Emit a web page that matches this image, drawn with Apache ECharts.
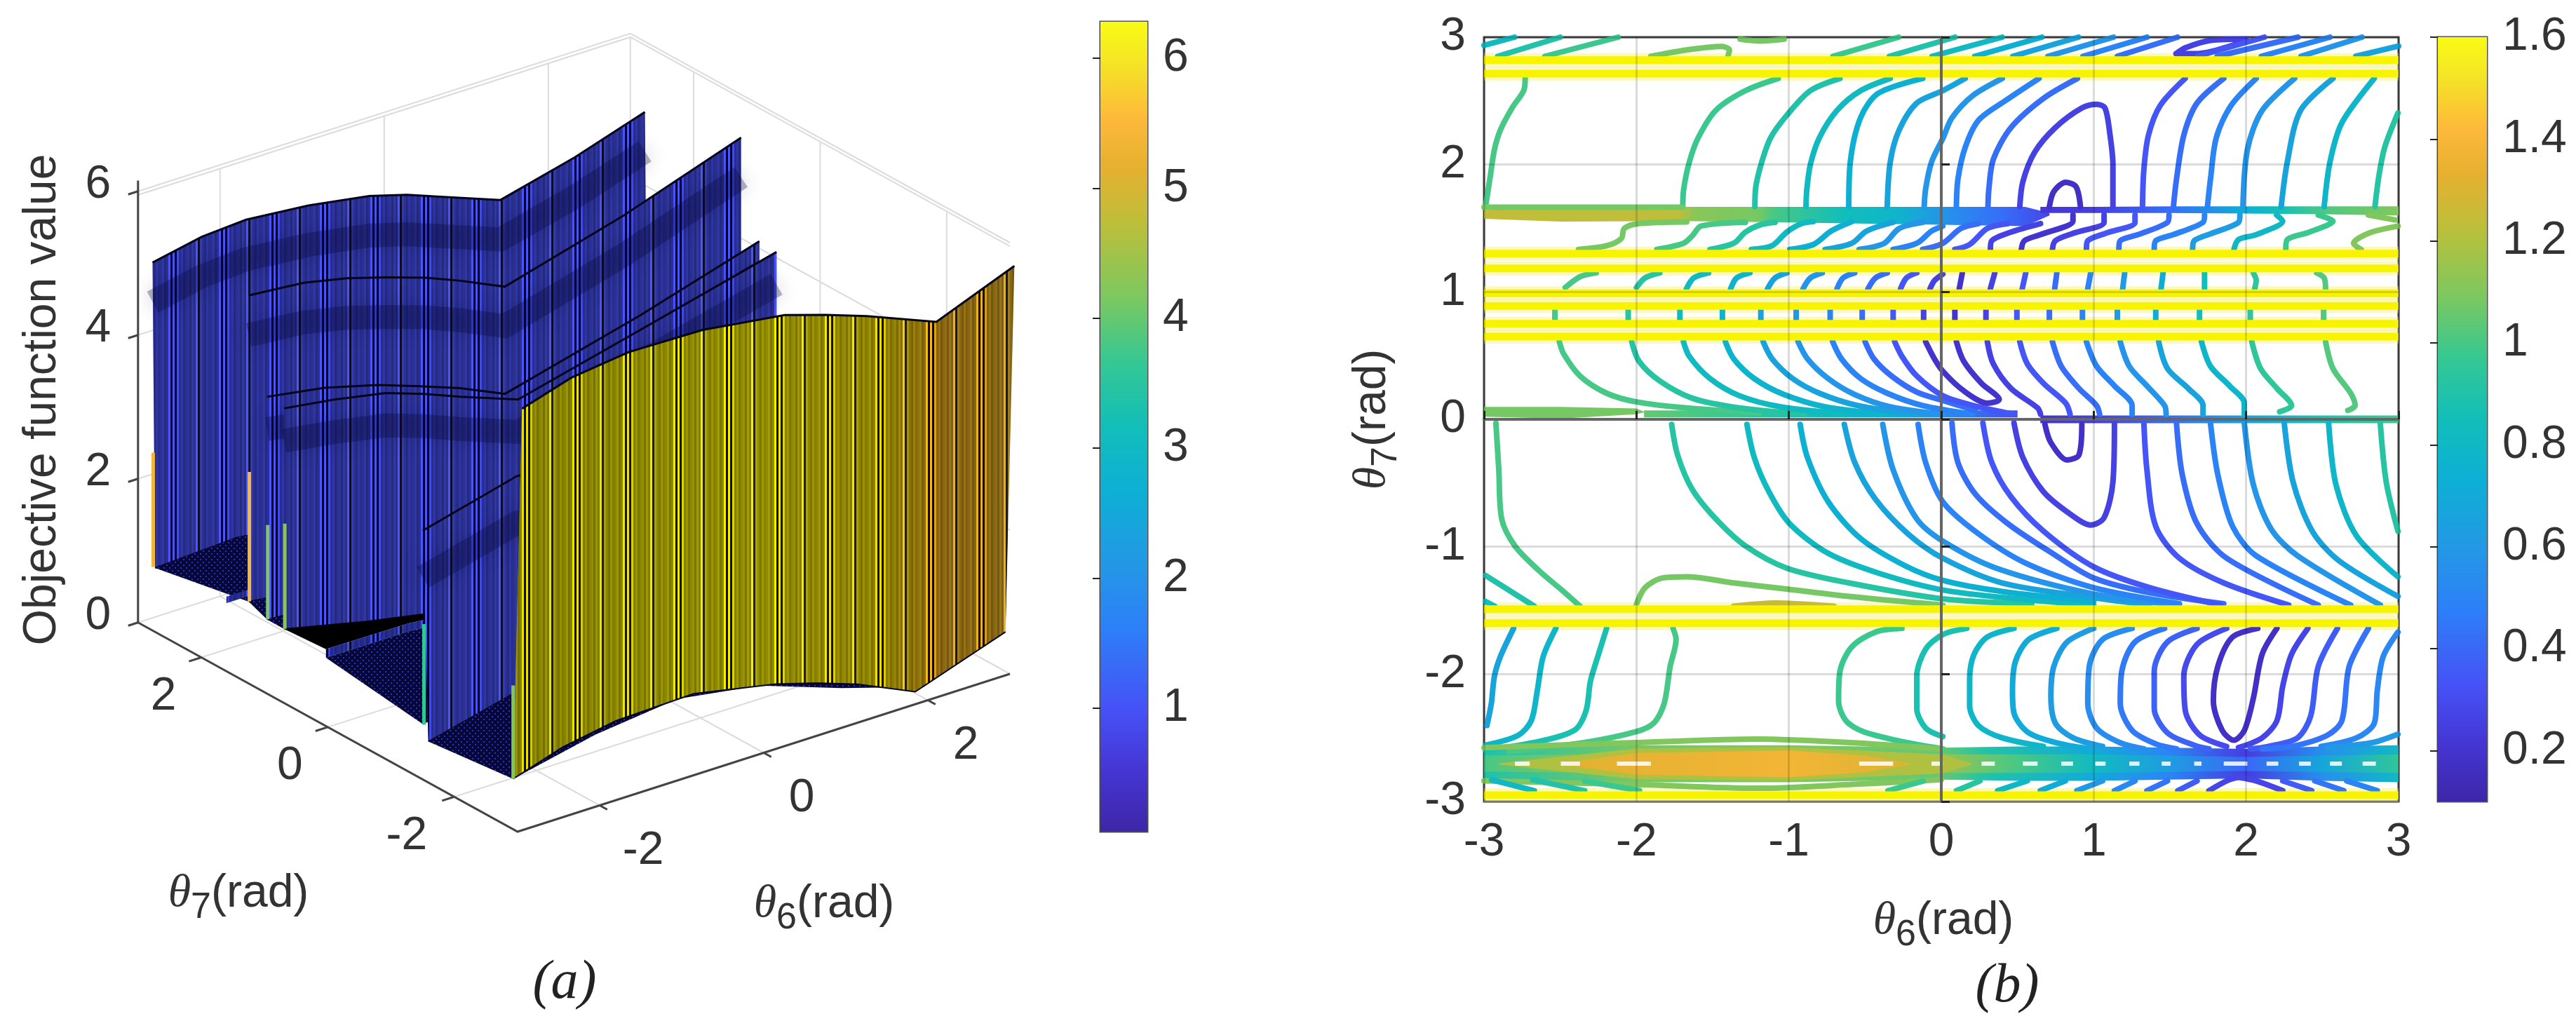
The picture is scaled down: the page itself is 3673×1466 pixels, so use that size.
<!DOCTYPE html>
<html>
<head>
<meta charset="utf-8">
<style>
  html, body { margin: 0; background: #fff; }
  #main { width: 3673px; height: 1466px; }
</style>
<script src="https://cdn.jsdelivr.net/npm/echarts@6/dist/echarts.min.js"></script>
</head>
<body>
<div id="main"></div>
<script>
const FONT = '"Liberation Sans", Arial, sans-serif'
const SERIF = '"Liberation Serif", serif'
const INK = '#333'

// parula
const colormap = [
  [0, '#3e26a8'], [0.08, '#4537d6'], [0.15, '#4651f5'], [0.25, '#2d7ff9'], [0.33, '#2398e5'],
  [0.42, '#0dafd5'], [0.5, '#12beb9'], [0.58, '#35c893'], [0.66, '#7cc860'], [0.75, '#bcbf3a'],
  [0.82, '#e6b030'], [0.88, '#fdb93a'], [0.95, '#f5e525'], [1, '#f9fb15']
]

// --- (a) surface ---
const tickTheta = [-2, 0, 2]
const tickZ = [0, 2, 4, 6]
const zRange = [0.05, 6.28]
const zBarTicks = [1, 2, 3, 4, 5, 6]

// blue walls, back to front
const wallTopTheta7 = [2.77, 1.25, 0.96, 0.69, -1.5]
const wallBaseTheta7 = [2.73, 1.25, 0.96, 0.69, -1.59]
const wallTopTheta6 = [
  [-3, -2.4, -1.86, -1.1, -0.36, 0.1, 0.54, 1.24, 2.14, 3],
  [-3, -2.33, -1.8, -1.33, -0.85, -0.42, 0.12, 1.57, 3],
  [-3, -2.3, -1.65, -1.15, -0.65, -0.1, 1.55, 3],
  [-3, -2.4, -1.76, -1.3, -0.86, -0.15, 1.4, 3],
  [-3, -1.85, 0, 1, 3]
]
const wallTop = [
  [5.12, 5.26, 5.3, 5.22, 5.08, 4.93, 4.74, 4.44, 4.7, 5.02],
  [5.4, 5.33, 5.2, 5.04, 4.86, 4.66, 4.38, 4.84, 5.4],
  [4.13, 4.0, 3.8, 3.6, 3.39, 3.11, 3.6, 4.1],
  [4.1, 4.0, 3.86, 3.68, 3.48, 3.18, 3.62, 4.08],
  [3.46, 3.8, 3.5, 3.1, 3.4]
]
const floorTheta6 = [-3, -2, -1, 0, 1, 2, 3]
const wallBase = [
  [0.89, 0.95, 0.8, 0.6, 0.4, 0.5, 0.8],
  [1.14, 1.0, 0.85, 0.6, 0.4, 0.5, 0.8],
  [1.03, 0.95, 0.75, 0.5, 0.35, 0.5, 0.8],
  [1.03, 0.77, 0.55, 0.4, 0.3, 0.4, 0.7],
  [0.57, 0.85, 0.9, 0.7, 0.5, 0.5, 0.8]
]
const wallBandDrop = [0.55, 0.55, 0.45, 0.45, 0.65]

// yellow front wall
const frontTopTheta7 = -3.07
const frontBaseTheta7 = -2.93
const frontTopTheta6 = [-3, -2.4, -1.7, -0.8, 0.2, 0.7, 1.2, 2.05, 3]
const frontTop = [5.92, 6.13, 6.23, 6.21, 6.05, 5.87, 5.67, 5.28, 5.71]
const frontBaseTheta6 = [-3, -2.4, -1.75, -0.8, 0.2, 0.7, 1.2, 1.9, 3]
const frontBase = [0.7, 0.92, 1.05, 1.08, 0.85, 0.68, 0.48, 0.12, 0.55]
const frontStopTheta6 = [-3, 0, 1.5, 2.2, 3]
const frontStopColor = ['#e8e000', '#f8f000', '#f5e000', '#f0b020', '#e8b020']

// floor patches between walls: back edge, front edge
const floorBackTheta7 = [2.73, 1.25, 0.96, 0.69, 0.03, -1.59]
const floorFrontTheta7 = [1.25, 0.96, 0.69, 0.03, -1.5, -2.93]
const floorBackZ = [
  [0.89, 0.95, 0.8, 0.6, 0.4, 0.5, 0.8],
  [1.14, 1.0, 0.85, 0.6, 0.4, 0.5, 0.8],
  [1.03, 0.95, 0.75, 0.5, 0.35, 0.5, 0.8],
  [1.03, 0.77, 0.55, 0.4, 0.3, 0.4, 0.7],
  [0.95, 0.95, 0.85, 0.7, 0.5, 0.4, 0.6],
  [0.57, 0.85, 0.9, 0.7, 0.5, 0.5, 0.8]
]
const floorFrontZ = [
  [1.14, 1.0, 0.85, 0.6, 0.4, 0.5, 0.8],
  [1.03, 0.95, 0.75, 0.5, 0.35, 0.5, 0.8],
  [1.03, 0.77, 0.55, 0.4, 0.3, 0.4, 0.7],
  [1.07, 1.06, 0.95, 0.8, 0.5, 0.4, 0.6],
  [0.77, 0.85, 0.9, 0.7, 0.5, 0.5, 0.8],
  [0.7, 0.95, 1.08, 0.9, 0.5, 0.15, 0.55]
]
const floorBlack = [false, false, false, true, false, false]

// low ridges on the floor
const ridgeTheta7 = [1.6, 0.03]
const ridgeTheta6 = [-3, -2, -1]
const ridgeTop = [[1.04, 1.04, 0.9], [1.07, 1.06, 0.95]]
const ridgeLow = [[0.95, 0.95, 0.8], [0.95, 0.95, 0.85]]

// coloured slivers on the cut edge at theta6 = -3
const sliverTheta7 = [2.76, 1.24, 0.95, 0.68, -1.52, -2.93]
const sliverLow = [0.89, 1.14, 1.03, 1.03, 0.77, 0.7]
const sliverHigh = [2.48, 2.95, 2.35, 2.5, 2.17, 2.0]
const sliverValue = [5.4, 5.5, 4.2, 4.3, 3.6, 4.2]

// --- (b) contours ---
const contourRange = [0.1, 1.6]
const contourBarTicks = [0.2, 0.4, 0.6, 0.8, 1, 1.2, 1.4, 1.6]
const yellowBands = [2.82, 2.714, 1.3, 1.185, 0.99, 0.89, 0.75, 0.65, -1.49, -1.6, -2.95]

// [level, theta6, theta7]
const topStrip = [
  [0.82, [-3, -2.8], [2.936, 3]],
  [0.9, [-2.91, -2.5], [2.85, 3]],
  [0.98, [-2.6, -2.12], [2.85, 3]],
  [1.08, [-1.905, -1.67, -1.44, -1.39, -1.4], [2.85, 2.9, 2.927, 2.9, 2.85]],
  [1.08, [-1.32, -1.19, -1.03], [2.985, 2.97, 2.985]],
  [0.98, [-0.71, -0.28], [2.85, 3]],
  [0.9, [-0.34, 0.09], [2.85, 3]],
  [0.82, [-0.06, 0.4], [2.85, 3]],
  [0.74, [0.22, 0.66], [2.85, 3]],
  [0.66, [0.47, 0.9], [2.85, 3]],
  [0.58, [0.7, 1.13], [2.85, 3]],
  [0.5, [0.93, 1.35], [2.85, 3]],
  [0.42, [1.155, 1.55], [2.85, 3]],
  [0.26, [1.54, 1.6, 1.77, 2.01, 1.99, 1.66, 1.54], [2.87, 2.916, 2.975, 2.985, 2.965, 2.87, 2.87]],
  [0.34, [1.68, 2.12], [2.85, 3]],
  [0.42, [1.81, 2.34], [2.85, 3]],
  [0.5, [2.1, 2.55], [2.85, 3]],
  [0.58, [2.36, 2.76], [2.85, 3]],
  [0.66, [2.72, 3], [2.85, 2.93]]
]
const upperField = [
  [1.0, [-2.73, -2.74, -2.816, -2.893, -2.932, -2.96, -2.99], [2.676, 2.58, 2.444, 2.27, 2.116, 1.9, 1.67]],
  [0.98, [-1.07, -1.285, -1.48, -1.595, -1.653, -1.69, -1.696], [2.676, 2.58, 2.425, 2.21, 2.02, 1.807, 1.67]],
  [0.9, [-0.665, -0.859, -1.014, -1.12, -1.178, -1.217, -1.223], [2.676, 2.58, 2.386, 2.21, 2.02, 1.826, 1.67]],
  [0.82, [-0.335, -0.529, -0.684, -0.8, -0.859, -0.882, -0.888], [2.676, 2.58, 2.425, 2.21, 2, 1.807, 1.67]],
  [0.74, [-0.122, -0.413, -0.53, -0.597, -0.607], [2.676, 2.56, 2.367, 2.02, 1.67]],
  [0.66, [0.157, 0.01, -0.161, -0.277, -0.335, -0.355], [2.676, 2.58, 2.483, 2.27, 2.02, 1.67]],
  [0.58, [0.4, 0.205, 0.07, 0.012, -0.064, -0.103, -0.112], [2.676, 2.54, 2.367, 2.21, 2.02, 1.807, 1.67]],
  [0.5, [0.641, 0.419, 0.244, 0.157, 0.109, 0.099], [2.676, 2.5, 2.347, 2.135, 1.884, 1.67]],
  [0.42, [0.893, 0.671, 0.457, 0.341, 0.312, 0.306], [2.676, 2.52, 2.29, 2.04, 1.807, 1.67]],
  [0.26, [0.515, 0.535, 0.612, 0.748, 0.922, 1.019, 1.074, 1.107, 1.126, 1.126], [1.67, 1.865, 2.096, 2.29, 2.444, 2.473, 2.444, 2.232, 2, 1.67]],
  [0.18, [0.709, 0.738, 0.816, 0.884, 0.913], [1.67, 1.788, 1.861, 1.826, 1.67]],
  [0.34, [1.6, 1.436, 1.359, 1.329, 1.32], [2.676, 2.463, 2.23, 1.96, 1.67]],
  [0.42, [1.853, 1.678, 1.591, 1.543, 1.523], [2.676, 2.483, 2.23, 1.884, 1.67]],
  [0.5, [2.066, 1.901, 1.804, 1.766, 1.746], [2.676, 2.463, 2.21, 1.884, 1.67]],
  [0.58, [2.318, 2.105, 2.008, 1.979], [2.676, 2.425, 2.116, 1.67]],
  [0.66, [2.57, 2.357, 2.27, 2.23], [2.676, 2.425, 2.02, 1.67]],
  [0.78, [2.84, 2.628, 2.55, 2.512], [2.676, 2.328, 2.02, 1.67]],
  [0.92, [2.996, 2.909, 2.87, 2.845], [2.405, 2.135, 1.903, 1.67]],
  [1.08, [-3, -1.7], [1.665, 1.665]]
]
const wiggleField = [
  [1.08, [-2.38, -2.196, -2.099, -2.08, -1.983, -1.67], [1.334, 1.363, 1.42, 1.498, 1.537, 1.55]],
  [1.0, [-1.866, -1.692, -1.634, -1.576, -1.285], [1.334, 1.382, 1.44, 1.517, 1.547]],
  [0.92, [-1.517, -1.362, -1.285, -1.188, -1.09], [1.334, 1.382, 1.47, 1.527, 1.547]],
  [0.82, [-1.246, -1.11, -1.014, -0.917, -0.84], [1.334, 1.363, 1.47, 1.537, 1.552]],
  [0.74, [-0.994, -0.84, -0.723, -0.587], [1.334, 1.372, 1.478, 1.552]],
  [0.66, [-0.762, -0.587, -0.49, -0.316], [1.334, 1.382, 1.478, 1.547]],
  [0.58, [-0.539, -0.374, -0.277, -0.122], [1.334, 1.382, 1.498, 1.546]],
  [0.5, [-0.316, -0.161, -0.064, 0.01], [1.334, 1.382, 1.478, 1.517]],
  [0.42, [-0.122, 0.01, 0.128, 0.244], [1.334, 1.382, 1.498, 1.537]],
  [0.34, [0.089, 0.186, 0.302, 0.438], [1.334, 1.372, 1.498, 1.537]],
  [0.26, [0.322, 0.331, 0.457, 0.651], [1.334, 1.402, 1.47, 1.537]],
  [0.2, [0.525, 0.545, 0.651, 0.864, 0.864], [1.334, 1.402, 1.45, 1.556, 1.604]],
  [0.26, [0.729, 0.748, 0.864, 1.068, 1.068], [1.334, 1.402, 1.46, 1.546, 1.604]],
  [0.34, [0.952, 0.961, 1.078, 1.271, 1.271], [1.334, 1.402, 1.46, 1.546, 1.604]],
  [0.42, [1.165, 1.174, 1.291, 1.484, 1.494], [1.334, 1.402, 1.45, 1.546, 1.604]],
  [0.5, [1.397, 1.407, 1.523, 1.717, 1.727], [1.334, 1.402, 1.45, 1.546, 1.604]],
  [0.62, [1.649, 1.659, 1.775, 1.95, 1.959], [1.334, 1.402, 1.46, 1.546, 1.604]],
  [0.8, [1.92, 1.95, 2.066, 2.24, 2.2], [1.334, 1.411, 1.45, 1.556, 1.604]],
  [0.98, [2.26, 2.27, 2.415, 2.57, 2.473], [1.334, 1.411, 1.47, 1.556, 1.604]],
  [1.1, [2.754, 2.705, 2.802, 2.996], [1.334, 1.382, 1.46, 1.517]],
  [1.1, [2.802, 2.977], [1.604, 1.565]]
]
// arcs between the 1.185 and 0.99 bands
const arcField = [
  [1.0, [-2.264, -2.37, -2.467], [1.15, 1.12, 1.035]],
  [0.92, [-1.847, -1.944, -2.0], [1.15, 1.11, 1.035]],
  [0.82, [-1.527, -1.624, -1.672], [1.15, 1.11, 1.025]],
  [0.76, [-1.256, -1.343, -1.382], [1.15, 1.11, 1.025]],
  [0.66, [-1.014, -1.091, -1.14], [1.15, 1.11, 1.025]],
  [0.58, [-0.781, -0.859, -0.907], [1.15, 1.11, 1.025]],
  [0.5, [-0.568, -0.645, -0.684], [1.15, 1.11, 1.025]],
  [0.42, [-0.355, -0.432, -0.481], [1.15, 1.11, 1.025]],
  [0.34, [-0.161, -0.229, -0.267], [1.15, 1.11, 1.025]],
  [0.26, [0.01, -0.044, -0.074], [1.14, 1.09, 1.025]],
  [0.2, [0.138, 0.118], [1.15, 1.025]],
  [0.26, [0.351, 0.322], [1.15, 1.025]],
  [0.34, [0.554, 0.531], [1.15, 1.025]],
  [0.42, [0.758, 0.744], [1.15, 1.025]],
  [0.5, [0.98, 0.961], [1.15, 1.025]],
  [0.6, [1.203, 1.19], [1.15, 1.025]],
  [0.72, [1.455, 1.442], [1.15, 1.025]],
  [0.85, [1.727, 1.727], [1.15, 1.025]],
  [0.95, [2.047, 2.066, 2.056], [1.15, 1.09, 1.025]],
  [1.02, [2.463, 2.512, 2.521], [1.15, 1.11, 1.025]]
]
// short vertical pieces between the 0.89 and 0.75 bands
const stubTheta6 = [-2.535, -2.054, -1.715, -1.436, -1.184, -0.952, -0.729, -0.519, -0.316, -0.116, 0.089, 0.293, 0.496, 0.709, 0.926, 1.155, 1.407, 1.694, 2.027, 2.508]
const stubLevel = [1.0, 0.92, 0.82, 0.76, 0.66, 0.58, 0.5, 0.42, 0.34, 0.26, 0.2, 0.26, 0.34, 0.42, 0.5, 0.6, 0.72, 0.85, 0.95, 1.02]
const stubTheta7 = [0.861, 0.774]
const midField = [
  [1.0, [-2.506, -2.477, -2.37, -2.196, -2.0, -1.67, -1.188], [0.61, 0.513, 0.34, 0.205, 0.137, 0.089, 0.05]],
  [0.92, [-2.031, -1.983, -1.847, -1.634, -1.324, -0.897], [0.61, 0.456, 0.301, 0.166, 0.089, 0.04]],
  [0.82, [-1.692, -1.653, -1.517, -1.324, -1.052, -0.607], [0.61, 0.494, 0.32, 0.185, 0.098, 0.04]],
  [0.76, [-1.417, -1.362, -1.227, -1.033, -0.762, -0.355], [0.61, 0.475, 0.32, 0.195, 0.098, 0.04]],
  [0.66, [-1.169, -1.11, -0.975, -0.8, -0.548, -0.161], [0.61, 0.475, 0.32, 0.205, 0.108, 0.04]],
  [0.58, [-0.94, -0.878, -0.742, -0.568, -0.335, 0.01], [0.61, 0.475, 0.32, 0.195, 0.098, 0.04]],
  [0.5, [-0.713, -0.655, -0.529, -0.355, -0.122, 0.205], [0.61, 0.475, 0.32, 0.205, 0.108, 0.04]],
  [0.42, [-0.5, -0.442, -0.326, -0.161, 0.012, 0.224], [0.61, 0.475, 0.34, 0.214, 0.147, 0.07]],
  [0.34, [-0.306, -0.258, -0.161, 0.01, 0.205, 0.477], [0.61, 0.494, 0.34, 0.185, 0.11, 0.04]],
  [0.2, [-0.103, -0.045, 0.01, 0.147, 0.302, 0.38, 0.264, 0.147, 0.099], [0.61, 0.475, 0.378, 0.224, 0.127, 0.156, 0.282, 0.456, 0.61]],
  [0.26, [0.302, 0.341, 0.457, 0.632, 0.651], [0.61, 0.436, 0.243, 0.089, 0.04]],
  [0.34, [0.515, 0.564, 0.671, 0.816, 0.845], [0.61, 0.436, 0.282, 0.127, 0.04]],
  [0.42, [0.729, 0.787, 0.903, 1.019, 1.039], [0.61, 0.417, 0.243, 0.108, 0.04]],
  [0.5, [0.952, 1.019, 1.136, 1.252, 1.252], [0.61, 0.417, 0.263, 0.108, 0.04]],
  [0.58, [1.174, 1.233, 1.349, 1.465, 1.475], [0.61, 0.417, 0.263, 0.108, 0.04]],
  [0.66, [1.426, 1.484, 1.62, 1.717, 1.717], [0.61, 0.398, 0.243, 0.108, 0.04]],
  [0.78, [1.707, 1.766, 1.891, 1.988, 1.988], [0.61, 0.417, 0.263, 0.127, 0.04]],
  [0.95, [2.037, 2.095, 2.202, 2.298, 2.22], [0.61, 0.398, 0.243, 0.108, 0.06]],
  [1.02, [2.521, 2.57, 2.686, 2.715, 2.667], [0.61, 0.398, 0.205, 0.108, 0.07]]
]
const lowerField = [
  [1.0, [-2.922, -2.903, -2.884, -2.797, -2.64, -2.488, -2.37], [-0.03, -0.396, -0.782, -0.994, -1.187, -1.342, -1.467]],
  [0.92, [-1.769, -1.73, -1.634, -1.479, -1.285, -1.014, -0.607, 0.01, 0.593], [-0.04, -0.28, -0.55, -0.782, -0.994, -1.168, -1.284, -1.409, -1.448]],
  [0.82, [-1.275, -1.227, -1.13, -0.994, -0.742, -0.413, 0.01, 0.496, 1], [-0.04, -0.3, -0.57, -0.82, -1.052, -1.207, -1.34, -1.409, -1.458]],
  [0.74, [-0.926, -0.878, -0.742, -0.529, -0.238, 0.01, 0.399, 1], [-0.04, -0.3, -0.647, -0.936, -1.149, -1.264, -1.351, -1.429]],
  [0.66, [-0.636, -0.568, -0.432, -0.219, 0.01, 0.399, 1, 1.368], [-0.04, -0.338, -0.627, -0.898, -1.09, -1.284, -1.4, -1.458]],
  [0.58, [-0.384, -0.316, -0.161, 0.01, 0.36, 1, 1.562], [-0.04, -0.396, -0.782, -0.956, -1.168, -1.371, -1.458]],
  [0.5, [-0.152, -0.103, 0.01, 0.244, 0.554, 1, 1.562], [-0.04, -0.338, -0.647, -0.898, -1.129, -1.322, -1.448]],
  [0.42, [0.07, 0.109, 0.225, 0.438, 0.729, 1, 1.368, 1.853], [-0.029, -0.338, -0.589, -0.82, -1.052, -1.245, -1.361, -1.448]],
  [0.34, [0.273, 0.331, 0.457, 0.671, 1, 1.368, 1.833], [-0.029, -0.338, -0.608, -0.878, -1.158, -1.322, -1.458]],
  [0.26, [0.477, 0.535, 0.671, 0.845, 0.981, 1.068, 1.126, 1.136], [-0.029, -0.299, -0.569, -0.743, -0.83, -0.772, -0.492, -0.029]],
  [0.18, [0.68, 0.719, 0.826, 0.903, 0.922], [-0.039, -0.183, -0.319, -0.28, -0.039]],
  [0.34, [1.329, 1.349, 1.407, 1.562, 1.853, 2.279], [-0.029, -0.396, -0.84, -1.09, -1.284, -1.458]],
  [0.42, [1.543, 1.581, 1.678, 1.872, 2.473], [-0.029, -0.434, -0.82, -1.09, -1.458]],
  [0.5, [1.766, 1.814, 1.911, 2.066, 2.686], [-0.029, -0.434, -0.84, -1.071, -1.458]],
  [0.58, [1.988, 2.047, 2.163, 2.337, 2.88], [-0.029, -0.512, -0.859, -1.071, -1.458]],
  [0.66, [2.25, 2.308, 2.434, 2.609, 2.996], [-0.029, -0.492, -0.878, -1.11, -1.39]],
  [0.78, [2.541, 2.589, 2.725, 2.996], [-0.029, -0.512, -0.917, -1.236]],
  [0.92, [2.88, 2.919, 2.996], [-0.029, -0.492, -0.878]],
  [0.9, [-2.99, -2.67], [-1.226, -1.467]],
  [0.85, [-2.99, -2.93], [-1.43, -1.467]],
  [1.08, [-2.002, -1.944, -1.828, -1.672, -1.362, -1.014, -0.607, 0.01], [-1.458, -1.322, -1.245, -1.236, -1.284, -1.332, -1.39, -1.458]],
  [1.25, [-1.362, -1.09, -0.703], [-1.467, -1.442, -1.467]]
]
const bottomField = [
  [0.66, [-2.806, -2.893, -2.932, -2.952, -2.981], [-1.641, -1.863, -2.017, -2.23, -2.403]],
  [0.78, [-2.529, -2.612, -2.651, -2.69, -2.777, -2.99], [-1.641, -1.863, -2.133, -2.365, -2.481, -2.558]],
  [0.88, [-2.196, -2.254, -2.302, -2.331, -2.409, -2.68, -2.99], [-1.641, -1.863, -2.056, -2.288, -2.442, -2.539, -2.596]],
  [1.0, [-1.76, -1.74, -1.779, -1.818, -1.886, -2.002, -2.351, -2.835], [-1.641, -1.728, -1.94, -2.23, -2.384, -2.452, -2.539, -2.606]],
  [0.98, [-0.258, -0.432, -0.587, -0.665, -0.674, -0.626, -0.51, -0.219, 0.01], [-1.641, -1.67, -1.786, -1.979, -2.21, -2.365, -2.452, -2.539, -2.587]],
  [0.88, [0.167, 0.01, -0.103, -0.161, -0.161, -0.103, 0.01], [-1.641, -1.689, -1.805, -2.017, -2.268, -2.423, -2.49]],
  [0.78, [0.477, 0.302, 0.215, 0.186, 0.186, 0.244, 0.399, 0.67], [-1.641, -1.709, -1.844, -2.037, -2.249, -2.404, -2.5, -2.568]],
  [0.7, [0.758, 0.574, 0.486, 0.467, 0.477, 0.574, 0.787, 0.981], [-1.641, -1.728, -1.902, -2.133, -2.307, -2.461, -2.548, -2.587]],
  [0.62, [1, 0.826, 0.738, 0.719, 0.748, 0.864, 1.058], [-1.641, -1.747, -1.94, -2.172, -2.384, -2.5, -2.568]],
  [0.54, [1.252, 1.058, 0.971, 0.961, 1.019, 1.174, 1.329], [-1.641, -1.728, -1.94, -2.23, -2.423, -2.539, -2.587]],
  [0.46, [1.465, 1.271, 1.184, 1.174, 1.252, 1.407, 1.543], [-1.641, -1.747, -1.979, -2.23, -2.442, -2.548, -2.587]],
  [0.38, [1.678, 1.484, 1.397, 1.397, 1.484, 1.659, 1.756], [-1.641, -1.747, -1.979, -2.268, -2.461, -2.558, -2.587]],
  [0.3, [1.872, 1.678, 1.591, 1.601, 1.698, 1.872], [-1.641, -1.766, -2.017, -2.288, -2.481, -2.568]],
  [0.18, [2.076, 1.911, 1.814, 1.785, 1.843, 1.92, 1.988, 2.047, 2.105, 2.202], [-1.641, -1.709, -1.94, -2.21, -2.442, -2.519, -2.442, -2.191, -1.844, -1.641]],
  [0.28, [2.405, 2.298, 2.24, 2.202, 2.105, 1.95], [-1.641, -1.844, -2.095, -2.365, -2.5, -2.577]],
  [0.36, [2.599, 2.473, 2.424, 2.337, 2.143, 2.027], [-1.641, -1.94, -2.326, -2.5, -2.568, -2.587]],
  [0.44, [2.802, 2.676, 2.628, 2.531, 2.298, 2.105], [-1.641, -1.94, -2.365, -2.481, -2.568, -2.587]],
  [0.52, [2.996, 2.899, 2.86, 2.841, 2.725, 2.492], [-1.67, -1.863, -2.133, -2.384, -2.5, -2.568]],
  [0.6, [2.996, 2.822, 2.531], [-2.471, -2.539, -2.577]],
  [1.1, [-3, -2, -1.2, -0.6, 0], [-2.577, -2.538, -2.51, -2.538, -2.587]],
  [1.1, [-3, -2, -1.2, -0.6, 0], [-2.838, -2.867, -2.896, -2.867, -2.828]],
  // under the spindle
  [0.8, [-2.67, -2.95], [-2.915, -2.83]],
  [0.9, [-2.34, -2.68], [-2.915, -2.83]],
  [0.98, [-1.98, -2.34], [-2.915, -2.84]],
  [0.98, [-0.35, -0.12], [-2.915, -2.84]],
  [0.92, [0.1, 0.254], [-2.915, -2.838]],
  [0.8, [0.37, 0.564], [-2.915, -2.838]],
  [0.72, [0.65, 0.814], [-2.915, -2.838]],
  [0.6, [0.89, 1.058], [-2.915, -2.838]],
  [0.52, [1.136, 1.271], [-2.915, -2.838]],
  [0.44, [1.349, 1.484], [-2.915, -2.838]],
  [0.36, [1.552, 1.678], [-2.915, -2.838]],
  [0.28, [1.756, 1.872, 1.95], [-2.915, -2.838, -2.81]],
  [0.28, [2.24, 2.066, 1.95], [-2.915, -2.838, -2.81]],
  [0.36, [2.43, 2.24], [-2.915, -2.838]],
  [0.44, [2.64, 2.45], [-2.915, -2.838]],
  [0.5, [2.86, 2.66], [-2.915, -2.838]]
]

// filled, tightly packed contours: edges and level along theta6
const thickBands = [
  { t: [-3, -2.5, -1.7, -1, 0, 0.55, 0.71], up: [1.643, 1.668, 1.668, 1.668, 1.668, 1.668, 1.62], lo: [1.575, 1.552, 1.556, 1.545, 1.527, 1.517, 1.6],
    st: [-3, -1.72, -1.62, -1.2, -1.1, -0.65, -0.3, 0, 0.4, 0.71], lv: [1.24, 1.23, 1.12, 1.08, 1.0, 0.85, 0.78, 0.58, 0.42, 0.28] },
  { t: [0.65, 1, 1.5, 2, 2.5, 3], up: [1.668, 1.668, 1.672, 1.672, 1.672, 1.672], lo: [1.62, 1.62, 1.62, 1.615, 1.61, 1.6],
    st: [0.65, 1, 1.5, 2, 2.2, 2.55, 3], lv: [0.22, 0.25, 0.42, 0.74, 0.85, 1.02, 1.1] },
  { t: [-3, -2.5, -2, -1.95], up: [0.098, 0.098, 0.085, 0.06], lo: [0.02, 0.005, 0.04, 0.055],
    st: [-3, -1.95], lv: [1.08, 1.08] },
  { t: [-1.95, -1, 0, 0.5], up: [0.07, 0.07, 0.07, 0.07], lo: [0.015, 0.015, 0.015, 0.015],
    st: [-1.95, -1.44, -0.84, -0.3, 0, 0.5], lv: [1.05, 0.98, 0.85, 0.72, 0.55, 0.3] },
  { t: [0.65, 1, 2, 3], up: [0.03, 0.03, 0.03, 0.03], lo: [-0.03, -0.03, -0.03, -0.03],
    st: [0.65, 1, 1.5, 2, 2.5, 3], lv: [0.2, 0.25, 0.42, 0.66, 0.88, 0.98] },
  // spindle at theta7 = -2.7, outer to inner
  { t: [-3, -2, -1, 0, 0.5, 1, 2, 2.5, 3], up: [-2.577, -2.558, -2.558, -2.577, -2.568, -2.568, -2.587, -2.568, -2.558], lo: [-2.838, -2.848, -2.848, -2.828, -2.838, -2.838, -2.819, -2.838, -2.848],
    st: [-3, -2, -1, 0, 0.3, 1, 1.5, 2, 2.5, 3], lv: [0.9, 1.08, 1.1, 1.05, 0.9, 0.7, 0.5, 0.25, 0.55, 0.8] },
  { t: [-3, -2.2, -1, 0, 1, 2, 3], up: [-2.64, -2.63, -2.63, -2.63, -2.63, -2.65, -2.63], lo: [-2.765, -2.775, -2.775, -2.775, -2.775, -2.76, -2.775],
    st: [-3, -2.2, -1, 0, 0.5, 1, 1.5, 2, 2.5, 3], lv: [1.0, 1.15, 1.2, 1.15, 1.0, 0.82, 0.62, 0.4, 0.68, 0.95] },
  { t: [-2.9, -2, -1, 0, 0.2], up: [-2.7, -2.585, -2.575, -2.63, -2.7], lo: [-2.71, -2.825, -2.835, -2.78, -2.71],
    st: [-2.9, 0.2], lv: [1.2, 1.2] },
  { t: [-2.5, -2, -1, -0.5, -0.2], up: [-2.7, -2.62, -2.6, -2.64, -2.7], lo: [-2.71, -2.79, -2.81, -2.77, -2.71],
    st: [-2.5, -1, -0.2], lv: [1.32, 1.38, 1.3] }
]
const spindleTheta7 = -2.703
const gapStart = [-2.797, -2.496, -2.128, -0.539, -0.064, 0.264, 0.535, 0.787, 1.01, 1.233, 1.446, 1.659, 1.853, 2.134, 2.347, 2.55, 2.764]
const gapEnd = [-2.7, -2.37, -1.905, -0.316, 0.01, 0.351, 0.632, 0.864, 1.078, 1.3, 1.504, 1.707, 2.008, 2.211, 2.424, 2.628, 2.851]

const contourFields = [topStrip, upperField, wiggleField, arcField, midField, lowerField, bottomField]

// --- helpers ---
function hexToRgb(h) {
  return [1, 3, 5].map((i) => parseInt(h.slice(i, i + 2), 16))
}
function parula(f) {
  f = Math.max(0, Math.min(1, f))
  for (let i = 1; i < colormap.length; i++) {
    if (f <= colormap[i][0]) {
      const [f0, c0] = colormap[i - 1]
      const [f1, c1] = colormap[i]
      const k = (f - f0) / (f1 - f0)
      const a = hexToRgb(c0)
      const b = hexToRgb(c1)
      return `rgb(${a.map((v, j) => Math.round(v + (b[j] - v) * k)).join(',')})`
    }
  }
  return colormap[colormap.length - 1][1]
}
const contourColor = (v) => parula((v - contourRange[0]) / (contourRange[1] - contourRange[0]))

// the 3D camera of panel (a): theta6, theta7, z to the flat plane of a hidden grid
function view(t6, t7, z) {
  return [117 * (t6 + 3) - 90.2 * (t7 + 3), 37.5 * (t6 + 3) + 49.7 * (t7 + 3) + 102.5 * z]
}

function makeStripes() {
  // moire of the mesh edges: black columns over the wall colour
  const alphas = [0.42, 0.5, 0.36, 0.46, 0.42, 0.34, 0.5, 0.42, 0, 0.95, 0, 0.95, 0.1, 0.46, 0.36, 0.5, 0.42, 0.38, 0.5, 0.34, 0.46, 0, 0.85, 0.3]
  const cv = document.createElement('canvas')
  cv.width = alphas.length * 3
  cv.height = 8
  const ctx = cv.getContext('2d')
  alphas.forEach((a, i) => {
    ctx.fillStyle = `rgba(0,0,0,${a})`
    ctx.fillRect(i * 3, 0, 3, 8)
  })
  return { image: cv, repeat: 'repeat' }
}
function makeDots() {
  const cv = document.createElement('canvas')
  cv.width = 8
  cv.height = 8
  const ctx = cv.getContext('2d')
  ctx.fillStyle = '#070838'
  ctx.fillRect(0, 0, 8, 8)
  ctx.fillStyle = '#2a32c4'
  ctx.fillRect(1, 1, 2, 2)
  ctx.fillRect(5, 5, 2, 2)
  return { image: cv, repeat: 'repeat' }
}
const stripes = makeStripes()
const dots = makeDots()

// --- panel (a) layers, painted back to front ---
const layers = []
const GRIDGREY = '#dcdcdc'
function addLine(pts, color, width) {
  layers.push({ kind: 'line', pts, color, width })
}
const zTop = 5.95
tickTheta.forEach((t) => {
  addLine([[t, -3, 0], [t, 3, 0], [t, 3, zTop]], GRIDGREY, 2)
  addLine([[-3, t, 0], [3, t, 0], [3, t, zTop]], GRIDGREY, 2)
})
tickZ.forEach((z) => {
  addLine([[-3, 3, z], [3, 3, z], [3, -3, z]], GRIDGREY, 2)
})
addLine([[-3, 3, zTop], [3, 3, zTop], [3, -3, zTop]], GRIDGREY, 2)
addLine([[3, 3, 0], [3, 3, zTop]], GRIDGREY, 2)

// black axes and ticks
addLine([[-3, 3, 0], [-3, -3, 0], [3, -3, 0]], '#444', 3)
addLine([[-3, 3, 0], [-3, 3, 6.15]], '#444', 3)
tickTheta.forEach((t) => {
  addLine([[t, -3, 0], [t, -3.12, 0]], '#444', 3)
  addLine([[-3, t, 0], [-3.15, t, 0]], '#444', 3)
  layers.push({ kind: 'text', at: [t, -3, 0], dx: t < 0 ? 62 : 54, dy: 65, text: String(t) })
  layers.push({ kind: 'text', at: [-3, t, 0], dx: t < 0 ? -68 : -54, dy: 56, text: String(t) })
})
tickZ.forEach((z) => {
  addLine([[-3, 3, z], [-3.12, 3, z]], '#444', 3)
  layers.push({ kind: 'text', at: [-3, 3, z], dx: -57, dy: -9, text: String(z) })
})

function addWall(i) {
  layers.push({
    kind: 'wall',
    top: wallTopTheta6[i].map((t, j) => [t, wallTopTheta7[i], wallTop[i][j]]),
    base: floorTheta6.map((t, j) => [t, wallBaseTheta7[i], wallBase[i][j]]),
    band: wallTopTheta6[i].map((t, j) => [t, wallTopTheta7[i], wallTop[i][j] - wallBandDrop[i]]),
    fill: '#4a55ff'
  })
  layers.push({ kind: 'line', pts: [[-3, sliverTheta7[i], sliverLow[i]], [-3, sliverTheta7[i], sliverHigh[i]]], color: parula((sliverValue[i] - zRange[0]) / (zRange[1] - zRange[0])), width: 5 })
}
function addFloor(i) {
  layers.push({
    kind: 'floor',
    pts: floorTheta6.map((t, j) => [t, floorBackTheta7[i], floorBackZ[i][j]])
      .concat(floorTheta6.map((t, j) => [t, floorFrontTheta7[i], floorFrontZ[i][j]]).reverse()),
    fill: floorBlack[i] ? '#000' : dots
  })
}
function addRidge(i) {
  layers.push({
    kind: 'ridge',
    pts: ridgeTheta6.map((t, j) => [t, ridgeTheta7[i], ridgeTop[i][j]])
      .concat(ridgeTheta6.map((t, j) => [t, ridgeTheta7[i], ridgeLow[i][j]]).reverse())
  })
}
addWall(0)
addFloor(0)
addRidge(0)
addWall(1)
addFloor(1)
addWall(2)
addFloor(2)
addWall(3)
addFloor(3)
addRidge(1)
addFloor(4)
addWall(4)
addFloor(5)
layers.push({
  kind: 'wall',
  top: frontTopTheta6.map((t, j) => [t, frontTopTheta7, frontTop[j]]),
  base: frontBaseTheta6.map((t, j) => [t, frontBaseTheta7, frontBase[j]]),
  fill: 'front'
})
layers.push({ kind: 'line', pts: [[-3, sliverTheta7[5], sliverLow[5]], [-3, sliverTheta7[5], sliverHigh[5]]], color: parula((sliverValue[5] - zRange[0]) / (zRange[1] - zRange[0])), width: 5 })

function renderLayer(params, api) {
  const layer = layers[api.value(0)]
  const toPx = (p) => api.coord(view(p[0], p[1], p[2]))
  if (layer.kind === 'line') {
    return {
      type: 'polyline',
      shape: { points: layer.pts.map(toPx) },
      style: { stroke: layer.color, lineWidth: layer.width, fill: 'none' }
    }
  }
  if (layer.kind === 'text') {
    const [x, y] = toPx(layer.at)
    return {
      type: 'text',
      x: x + layer.dx,
      y: y + layer.dy,
      style: { text: layer.text, font: `66px ${FONT}`, fill: INK, align: 'center', verticalAlign: 'middle' }
    }
  }
  if (layer.kind === 'floor') {
    return { type: 'polygon', shape: { points: layer.pts.map(toPx) }, style: { fill: layer.fill } }
  }
  if (layer.kind === 'ridge') {
    const points = layer.pts.map(toPx)
    return {
      type: 'group',
      children: [
        { type: 'polygon', shape: { points }, style: { fill: '#3f4cf0' } },
        { type: 'polygon', shape: { points }, style: { fill: stripes } }
      ]
    }
  }
  // wall
  const top = layer.top.map(toPx)
  const base = layer.base.map(toPx)
  const points = top.concat(base.slice().reverse())
  let fill = layer.fill
  if (fill === 'front') {
    const x0 = toPx([-3, frontBaseTheta7, 0])[0]
    const x1 = toPx([3, frontBaseTheta7, 0])[0]
    fill = {
      type: 'linear', global: true, x: x0, y: 0, x2: x1, y2: 0,
      colorStops: frontStopTheta6.map((t, i) => ({ offset: (t + 3) / 6, color: frontStopColor[i] }))
    }
  }
  const children = [
    { type: 'polygon', shape: { points }, style: { fill } },
    { type: 'polygon', shape: { points }, style: { fill: stripes } }
  ]
  if (layer.band) {
    children.push({
      type: 'polyline',
      shape: { points: layer.band.map(toPx) },
      style: { stroke: 'rgba(8,8,50,0.3)', lineWidth: 34, fill: 'none', shadowBlur: 28, shadowColor: 'rgba(8,8,50,0.5)' }
    })
  }
  children.push({ type: 'polyline', shape: { points: top }, style: { stroke: '#05051a', lineWidth: 3, fill: 'none' } })
  children.push({ type: 'polyline', shape: { points: base }, style: { stroke: '#05051a', lineWidth: 2, fill: 'none' } })
  return { type: 'group', children }
}

// --- panel (b) series ---
const contourSeries = []
function addContour(level, t6, t7) {
  contourSeries.push({
    type: 'line',
    xAxisIndex: 1,
    yAxisIndex: 1,
    data: t6.map((t, i) => [t, t7[i]]),
    symbol: 'none',
    smooth: 0.3,
    silent: true,
    lineStyle: { color: contourColor(level), width: 8, cap: 'round' },
    animation: false
  })
}
contourFields.forEach((field) => field.forEach(([level, t6, t7]) => addContour(level, t6, t7)))
stubTheta6.forEach((t, i) => addContour(stubLevel[i], [t, t], stubTheta7))

const flatLine = (b, color, width) => ({
  type: 'line',
  xAxisIndex: 1,
  yAxisIndex: 1,
  data: [[-3, b], [3, b]],
  symbol: 'none',
  silent: true,
  lineStyle: { color, width },
  animation: false
})

function renderBand(params, api) {
  const band = thickBands[api.value(0)]
  const left = api.coord([-3, 0])[0]
  const right = api.coord([3, 0])[0]
  const upper = band.t.map((t, i) => api.coord([t, band.up[i]]))
  const lower = band.t.map((t, i) => api.coord([t, band.lo[i]])).reverse()
  return {
    type: 'polygon',
    shape: { points: upper.concat(lower), smooth: 0 },
    style: {
      fill: {
        type: 'linear', global: true, x: left, y: 0, x2: right, y2: 0,
        colorStops: band.st.map((t, i) => ({ offset: (t + 3) / 6, color: contourColor(band.lv[i]) }))
      }
    }
  }
}
function renderGap(params, api) {
  const i = api.value(0)
  const a = api.coord([gapStart[i], spindleTheta7])
  const b = api.coord([gapEnd[i], spindleTheta7])
  return { type: 'line', shape: { x1: a[0], y1: a[1], x2: b[0], y2: b[1] }, style: { stroke: 'rgba(255,255,255,0.85)', lineWidth: 6 } }
}
function renderBar(params, api) {
  const lo = api.value(0)
  const hi = api.value(1)
  const p0 = api.coord([0, hi])
  const p1 = api.coord([1, lo])
  return {
    type: 'rect',
    shape: { x: p0[0], y: p0[1], width: p1[0] - p0[0], height: p1[1] - p0[1] },
    style: {
      fill: { type: 'linear', x: 0, y: 1, x2: 0, y2: 0, colorStops: colormap.map(([offset, color]) => ({ offset, color })) }
    }
  }
}

function barAxis(range, ticks) {
  return {
    type: 'value',
    gridIndex: 0,
    position: 'right',
    min: range[0],
    max: range[1],
    axisLine: { show: true, lineStyle: { color: '#444', width: 2 } },
    axisTick: { show: true, inside: true, length: 11, customValues: ticks, lineStyle: { color: '#222', width: 2 } },
    axisLabel: { customValues: ticks, margin: 22, color: INK, fontFamily: FONT, fontSize: 66, formatter: (v) => String(v) },
    splitLine: { show: false }
  }
}
const hiddenAxis = (gridIndex, min, max) => ({ type: 'value', gridIndex, min, max, show: false })
const thetaAxis = {
  type: 'value',
  gridIndex: 1,
  min: -3,
  max: 3,
  interval: 1,
  z: 10,
  axisLine: { show: true, lineStyle: { color: '#666', width: 4 } },
  axisTick: { show: true, inside: true, length: 12, lineStyle: { color: '#222', width: 3 } },
  axisLabel: { color: INK, fontFamily: FONT, fontSize: 66, margin: 26, formatter: (v) => String(v) },
  splitLine: { show: true, lineStyle: { color: 'rgba(0,0,0,0.14)', width: 3 } }
}

const titleRich = {
  t: { fontFamily: SERIF, fontStyle: 'italic', fontSize: 66, fill: INK, color: INK },
  s: { fontFamily: FONT, fontSize: 52, color: INK, verticalAlign: 'bottom', padding: [40, 0, 0, 0] },
  r: { fontFamily: FONT, fontSize: 66, color: INK }
}
function titleText(x, y, text, rotation) {
  return {
    type: 'text', x, y, rotation: rotation || 0,
    style: { text, rich: titleRich, fill: INK, align: 'center', verticalAlign: 'middle' }
  }
}
function captionText(x, y, text) {
  return {
    type: 'text', x, y,
    style: { text, font: `italic 78px ${SERIF}`, fill: '#222', align: 'center', verticalAlign: 'middle' }
  }
}

const chart = echarts.init(document.getElementById('main'))
chart.setOption({
  backgroundColor: '#fff',
  animation: false,
  grid: [
    { left: 197, top: 54, width: 1246, height: 1132, show: false },
    { left: 2116, top: 53, width: 1304, height: 1090, show: true, borderColor: '#444', borderWidth: 3, backgroundColor: '#fff' },
    { left: 1569, top: 31, width: 67, height: 1155, show: true, borderColor: '#555', borderWidth: 3 },
    { left: 3476, top: 53, width: 70, height: 1090, show: true, borderColor: '#555', borderWidth: 3 }
  ],
  xAxis: [
    hiddenAxis(0, -541, 705),
    { ...thetaAxis, position: 'bottom' },
    hiddenAxis(2, 0, 1),
    hiddenAxis(3, 0, 1)
  ],
  yAxis: [
    hiddenAxis(0, 0, 1132),
    { ...thetaAxis, position: 'left' },
    { ...barAxis(zRange, zBarTicks), gridIndex: 2 },
    { ...barAxis(contourRange, contourBarTicks), gridIndex: 3 }
  ],
  graphic: [
    titleText(61, 570, '{r|Objective function value}', Math.PI / 2),
    titleText(340, 1275, '{t|θ}{s|7}{r|(rad)}'),
    titleText(1175, 1290, '{t|θ}{s|6}{r|(rad)}'),
    titleText(1957, 598, '{t|θ}{s|7}{r|(rad)}', Math.PI / 2),
    titleText(2771, 1314, '{t|θ}{s|6}{r|(rad)}'),
    captionText(805, 1402, '(a)'),
    captionText(2862, 1407, '(b)')
  ],
  series: [
    {
      type: 'custom',
      name: 'surface',
      xAxisIndex: 0,
      yAxisIndex: 0,
      data: layers.map((_, i) => [i]),
      renderItem: renderLayer,
      clip: false,
      silent: true
    },
    ...yellowBands.map((b) => flatLine(b, 'rgba(248,240,120,0.45)', 20)),
    ...contourSeries,
    {
      type: 'custom',
      name: 'bands',
      xAxisIndex: 1,
      yAxisIndex: 1,
      data: thickBands.map((_, i) => [i]),
      renderItem: renderBand,
      silent: true
    },
    ...yellowBands.map((b) => flatLine(b, '#f8f400', 11)),
    {
      type: 'custom',
      name: 'gaps',
      xAxisIndex: 1,
      yAxisIndex: 1,
      data: gapStart.map((_, i) => [i]),
      renderItem: renderGap,
      silent: true
    },
    {
      type: 'custom',
      name: 'zbar',
      xAxisIndex: 2,
      yAxisIndex: 2,
      data: [[zRange[0], zRange[1]]],
      encode: { x: -1, y: [0, 1] },
      renderItem: renderBar,
      silent: true
    },
    {
      type: 'custom',
      name: 'contourbar',
      xAxisIndex: 3,
      yAxisIndex: 3,
      data: [[contourRange[0], contourRange[1]]],
      encode: { x: -1, y: [0, 1] },
      renderItem: renderBar,
      silent: true
    }
  ]
})
</script>
</body>
</html>
